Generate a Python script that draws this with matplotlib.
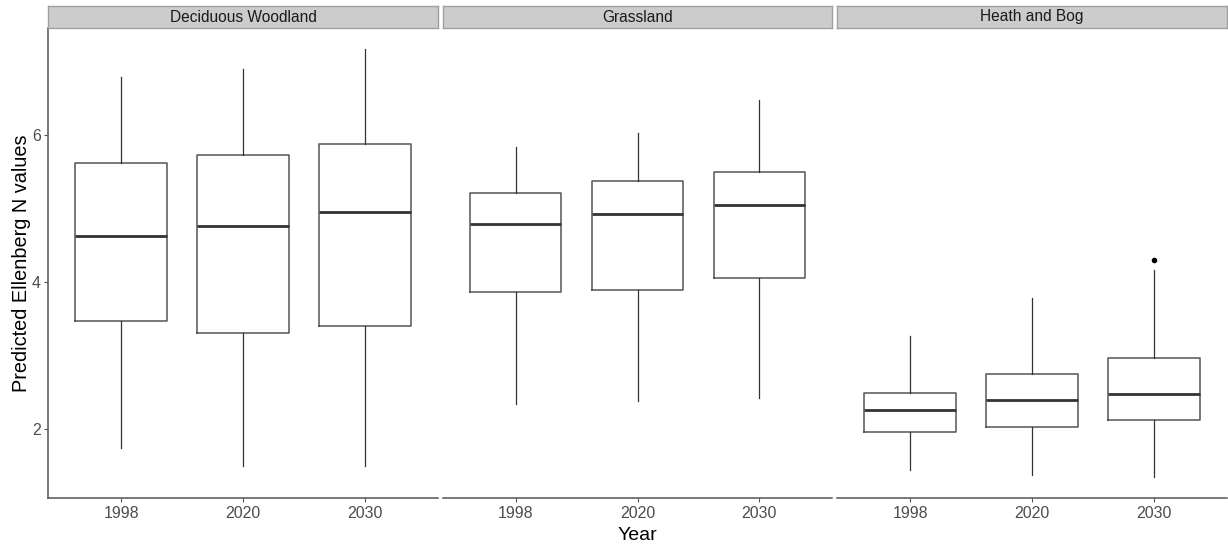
import numpy as np
import matplotlib.pyplot as plt

plt.rcParams['font.family'] = ['Liberation Sans', 'DejaVu Sans']

habitats = ["Deciduous Woodland", "Grassland", "Heath and Bog"]
years = ["1998", "2020", "2030"]

# box stats per habitat, one value per year
whisk_lo = [[1.75, 1.51, 1.50], [2.35, 2.39, 2.43], [1.45, 1.38, 1.36]]
q1 = [[3.47, 3.31, 3.41], [3.86, 3.90, 4.05], [1.96, 2.04, 2.13]]
med = [[4.62, 4.76, 4.95], [4.79, 4.93, 5.05], [2.27, 2.40, 2.48]]
q3 = [[5.62, 5.72, 5.88], [5.21, 5.37, 5.50], [2.50, 2.76, 2.97]]
whisk_hi = [[6.78, 6.90, 7.16], [5.83, 6.02, 6.47], [3.27, 3.78, 4.17]]
outliers = [[[], [], []], [[], [], []], [[], [], [4.30]]]

W, H = 1228, 551
fig = plt.figure(figsize=(W / 100, H / 100), dpi=100)

lo = min(min(r) for r in whisk_lo)
hi = max(max(r) for r in whisk_hi)
pad = (hi - lo) * 0.05
ylim = (lo - pad, hi + pad)

panel_x = [48, 442.5, 837]
pw = 390
ptop, pbot = 28, 498
txt_col = '#4d4d4d'

for i, hab in enumerate(habitats):
    ax = fig.add_axes([panel_x[i] / W, 1 - pbot / H, pw / W, (pbot - ptop) / H])
    stats = []
    for j, yr in enumerate(years):
        stats.append(dict(whislo=whisk_lo[i][j], q1=q1[i][j], med=med[i][j],
                          q3=q3[i][j], whishi=whisk_hi[i][j],
                          fliers=outliers[i][j], label=yr))
    ax.bxp(stats, positions=[1, 2, 3], widths=0.75, showcaps=False,
           boxprops=dict(color='#555555', linewidth=1.1),
           whiskerprops=dict(color='#333333', linewidth=0.9),
           medianprops=dict(color='#333333', linewidth=2.0),
           flierprops=dict(marker='o', markersize=3, markerfacecolor='black',
                           markeredgecolor='black'))
    ax.set_xlim(0.4, 3.6)
    ax.set_ylim(*ylim)
    for s in ['top', 'right']:
        ax.spines[s].set_visible(False)
    ax.spines['bottom'].set_color('#555555')
    ax.spines['bottom'].set_linewidth(1.1)
    ax.tick_params(axis='x', length=3, color='#555555', labelsize=11.5,
                   labelcolor=txt_col, pad=3)
    if i == 0:
        ax.spines['left'].set_color('#555555')
        ax.spines['left'].set_linewidth(1.1)
        ax.set_yticks([2, 4, 6])
        ax.tick_params(axis='y', length=3, color='#555555', labelsize=11.5,
                       labelcolor=txt_col, pad=2)
        ax.set_ylabel("Predicted Ellenberg N values", fontsize=14.3, labelpad=0.5)
    else:
        ax.spines['left'].set_visible(False)
        ax.set_yticks([])
    if i == 1:
        ax.set_xlabel("Year", fontsize=14, labelpad=4)

    # facet strip
    sx = fig.add_axes([panel_x[i] / W, 1 - ptop / H, pw / W, 22 / H])
    sx.set_facecolor('#cccccc')
    sx.set_xticks([])
    sx.set_yticks([])
    for s in sx.spines.values():
        s.set_color('#a0a0a0')
        s.set_linewidth(1.0)
    sx.text(0.5, 0.5, hab, ha='center', va='center', fontsize=11.2,
            color='#1a1a1a', transform=sx.transAxes)

fig.savefig("out.png", dpi=100)
